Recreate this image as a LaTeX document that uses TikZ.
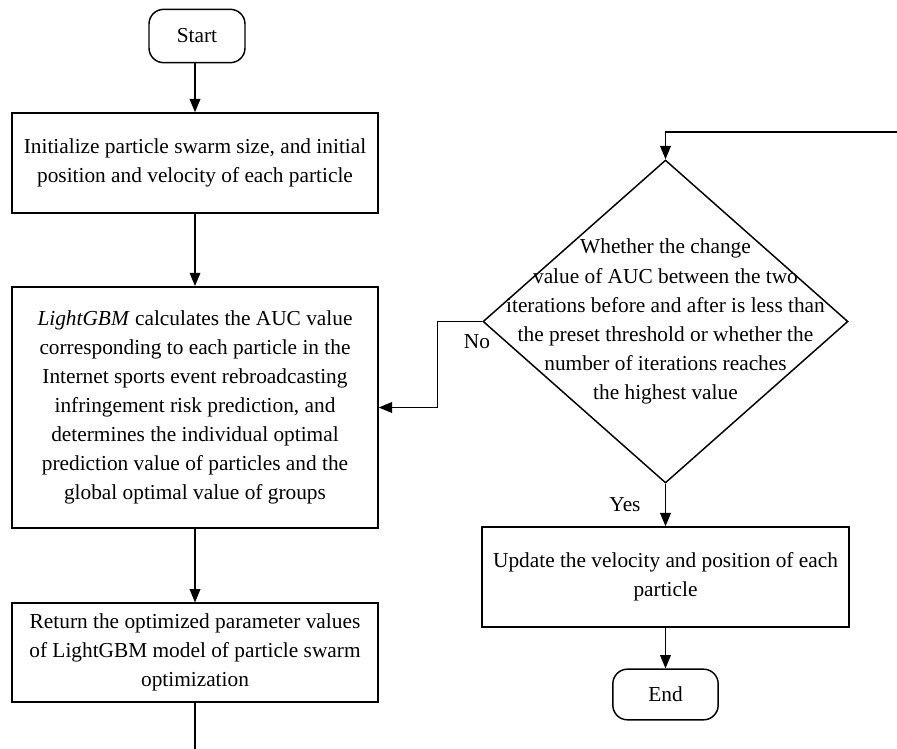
\documentclass[tikz,border=0pt]{standalone}
\usepackage{fontspec}
\setmainfont{Liberation Serif}
\usepackage{tikz}
\usetikzlibrary{positioning}
\usetikzlibrary{arrows.meta}
\usetikzlibrary{shapes.geometric}

\begin{document}
\begin{tikzpicture}[x=0.75pt,y=-0.75pt,
    every node/.style={font=\fontsize{16}{21.8}\selectfont},
    procbox/.style={shape=rectangle,draw=black,line width=1.1pt,align=center,minimum width=274.5pt},
    termbox/.style={shape=rectangle,rounded corners=11pt,draw=black,line width=1.1pt,align=center},
    decision/.style={shape=diamond,draw=black,line width=1.1pt,inner sep=0pt,minimum width=273.75pt,minimum height=242.25pt},
    flow/.style={line width=1.1pt,-{Triangle[length=10pt, width=8pt]}}]
    \useasboundingbox (0,0) rectangle (897,749);

    \node[termbox,minimum width=72pt,minimum height=40pt] (Start) at (197,36) {Start};
    \node[procbox,minimum height=75pt] (Init) at (195,163) {Initialize particle swarm size, and initial\\position and velocity of each particle};
    \node[procbox,minimum height=181pt] (Calc) at (195,407.5) {\textit{LightGBM} calculates the AUC value\\corresponding to each particle in the\\Internet sports event rebroadcasting\\infringement risk prediction, and\\determines the individual optimal\\prediction value of particles and the\\global optimal value of groups};
    \node[procbox,minimum height=74pt] (Ret) at (195,652.5) {Return the optimized parameter values\\of LightGBM model of particle swarm\\optimization};
    \coordinate (Out) at (195,749);

    \node[decision] (Check) at (665.5,321.5) {};
    \node[align=center,inner sep=0pt] (Check_T) at (Check.center) {Whether the change\\value of AUC between the two\\iterations before and after is less than\\the preset threshold or whether the\\number of iterations reaches\\the highest value};
    \coordinate (Loop) at (897,132);
    \node[procbox,minimum width=275.25pt,minimum height=75pt] (Upd) at (665.5,577) {Update the velocity and position of each\\particle};
    \node[termbox,minimum width=79pt,minimum height=38pt] (End) at (665.5,694.5) {End};

    \node (No) at (477,342) {No};
    \node (Yes) at (625,505) {Yes};

    \draw [flow] (Start.south -| Init.north) -- (Init);
    \draw [flow] (Init) -- (Calc);
    \draw [flow] (Calc) -- (Ret);
    \draw [line width=1.1pt] (Ret) -- (Out);

    \draw [flow] (Loop) -| (Check.north);
    \draw [flow] (Check.west) -- ++(-45,0) |- (Calc.east);
    \draw [flow] (Check.south) -- (Upd.north);
    \draw [flow] (Upd) -- (End);
\end{tikzpicture}
\end{document}
